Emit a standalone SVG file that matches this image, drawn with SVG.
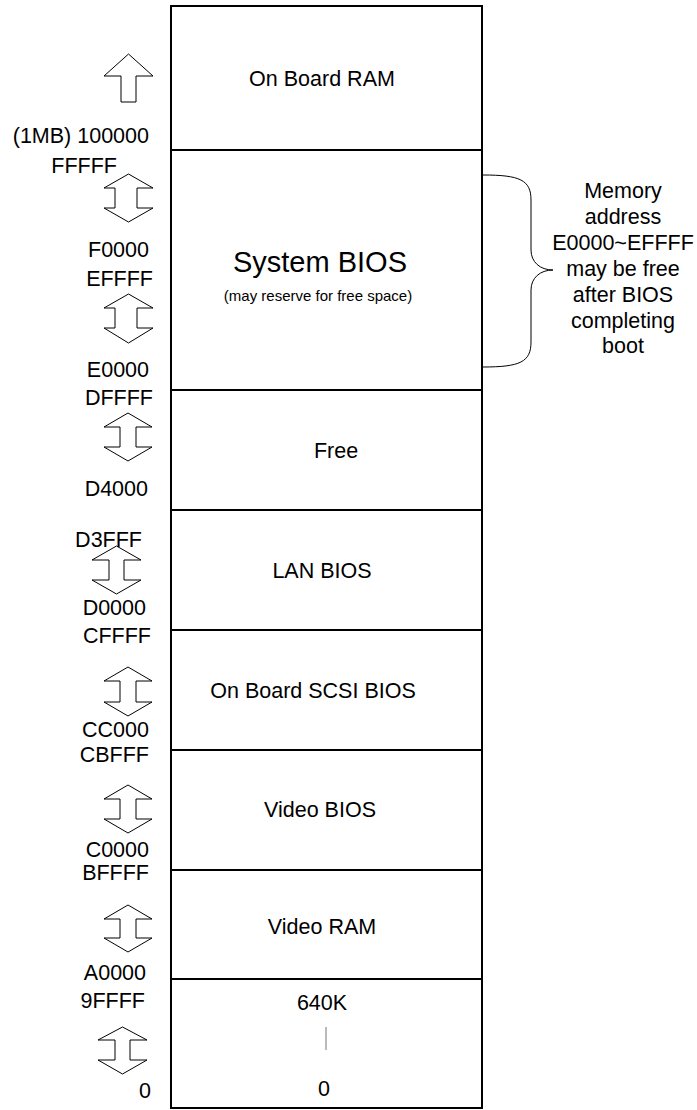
<svg xmlns="http://www.w3.org/2000/svg" width="697" height="1110" viewBox="0 0 697 1110">
<style>
text{font-family:"Liberation Sans",Arial,sans-serif;fill:#000}
.lbl{font-size:21.5px;text-anchor:end}
.c{font-size:21.5px;text-anchor:middle}
.big{font-size:29px;text-anchor:middle}
.sm{font-size:15px;text-anchor:middle}
.arr{fill:#fff;stroke:#000;stroke-width:1}
.sec{fill:#fff;stroke:#000;stroke-width:2}
</style>
<rect width="697" height="1110" fill="#fff"/>
<g id="memory-map">
<g id="on-board-ram"><rect class="sec" x="171" y="6" width="311" height="144"/><text class="c" x="322" y="86">On Board RAM</text></g>
<g id="system-bios"><rect class="sec" x="171" y="150" width="311" height="240"/><text class="big" x="320" y="272">System BIOS</text><text class="sm" x="318" y="301">(may reserve for free space)</text></g>
<g id="free"><rect class="sec" x="171" y="390" width="311" height="120"/><text class="c" x="336" y="458">Free</text></g>
<g id="lan-bios"><rect class="sec" x="171" y="510" width="311" height="120"/><text class="c" x="322" y="578">LAN BIOS</text></g>
<g id="scsi-bios"><rect class="sec" x="171" y="630" width="311" height="120"/><text class="c" x="313" y="698">On Board SCSI BIOS</text></g>
<g id="video-bios"><rect class="sec" x="171" y="750" width="311" height="120"/><text class="c" x="320" y="817">Video BIOS</text></g>
<g id="video-ram"><rect class="sec" x="171" y="870" width="311" height="109"/><text class="c" x="322" y="934">Video RAM</text></g>
<g id="conventional"><rect class="sec" x="171" y="979" width="311" height="129"/><text class="c" x="322" y="1010">640K</text><line x1="326" y1="1027" x2="326" y2="1050" stroke="#777" stroke-width="1"/><text class="c" x="324" y="1096">0</text></g>
</g>
<g id="labels">
<text class="lbl" x="149" y="143">(1MB) 100000</text>
<text class="lbl" x="117" y="173">FFFFF</text>
<text class="lbl" x="149" y="257">F0000</text>
<text class="lbl" x="153" y="286">EFFFF</text>
<text class="lbl" x="149" y="377">E0000</text>
<text class="lbl" x="153" y="405">DFFFF</text>
<text class="lbl" x="148" y="496">D4000</text>
<text class="lbl" x="142" y="547">D3FFF</text>
<text class="lbl" x="146" y="615">D0000</text>
<text class="lbl" x="151" y="643">CFFFF</text>
<text class="lbl" x="149" y="737">CC000</text>
<text class="lbl" x="149" y="762">CBFFF</text>
<text class="lbl" x="149" y="857">C0000</text>
<text class="lbl" x="149" y="880">BFFFF</text>
<text class="lbl" x="146" y="980">A0000</text>
<text class="lbl" x="145" y="1008">9FFFF</text>
<text class="lbl" x="151" y="1098">0</text>
</g>
<g id="connectors">
<polygon class="arr" points="128.5,54 153,76 136,76 136,102 121,102 121,76 104,76"/>
<polygon class="arr" points="128.5,174 153,188 137,188 137,208 153,208 128.5,222 104,208 115,208 115,188 104,188"/>
<polygon class="arr" points="128.5,294 153,308 137,308 137,328 153,328 128.5,343 104,328 115,328 115,308 104,308"/>
<polygon class="arr" points="128,413 152,427 136,427 136,447 152,447 128,461 104,447 120,447 120,427 104,427"/>
<polygon class="arr" points="116.5,546 141,560 124,560 124,580 141,580 116.5,594 92,580 109,580 109,560 92,560"/>
<polygon class="arr" points="128,667 152,681 136,681 136,702 152,702 128,716 104,702 120,702 120,681 104,681"/>
<polygon class="arr" points="128,785 152,799 136,799 136,819 152,819 128,833 104,819 120,819 120,799 104,799"/>
<polygon class="arr" points="128,905 152,919 136,919 136,938 152,938 128,952 104,938 120,938 120,919 104,919"/>
<polygon class="arr" points="122.5,1027 147,1040 130,1040 130,1060 147,1060 122.5,1074 98,1060 115,1060 115,1040 98,1040"/>
<path d="M483,175 C520,175 531,180 531,200 L531,250 C531,262 540,270 553,270 C540,270 531,278 531,290 L531,342 C531,362 520,367 483,367" fill="none" stroke="#000" stroke-width="1"/>
</g>
<g id="note">
<text class="c" x="623" y="198">Memory</text>
<text class="c" x="623" y="224">address</text>
<text class="c" x="623" y="250">E0000~EFFFF</text>
<text class="c" x="623" y="276">may be free</text>
<text class="c" x="623" y="302">after BIOS</text>
<text class="c" x="623" y="328">completing</text>
<text class="c" x="623" y="353">boot</text>
</g>
</svg>
